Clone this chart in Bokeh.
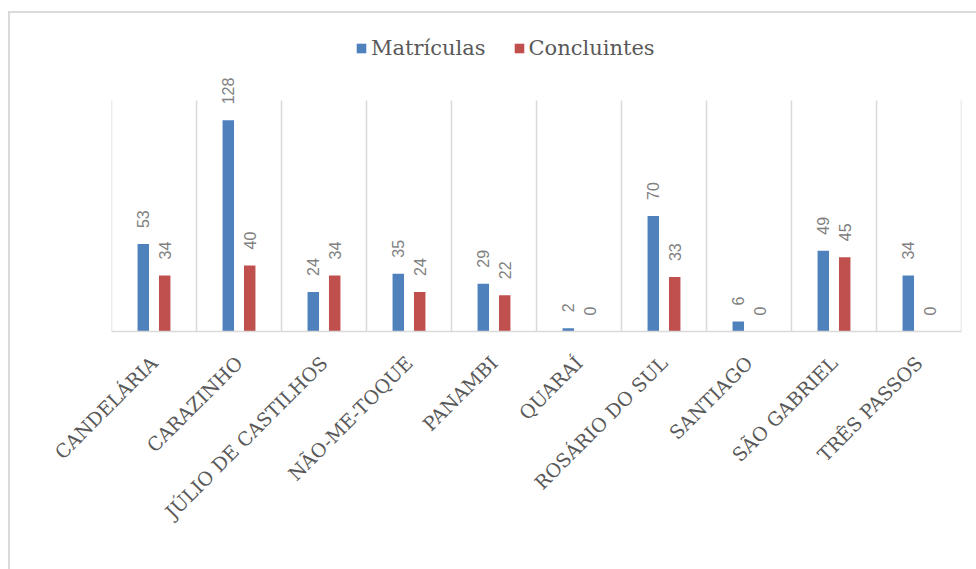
from math import pi
from bokeh.plotting import figure
from bokeh.models import (ColumnDataSource, FactorRange, Range1d, Legend, LegendItem)
from bokeh.transform import dodge
from bokeh.core.properties import value
from bokeh.embed import file_html
from bokeh.resources import INLINE

# ---- data ----
cidades = ["CANDELÁRIA", "CARAZINHO", "JÚLIO DE CASTILHOS", "NÃO-ME-TOQUE", "PANAMBI",
           "QUARAÍ", "ROSÁRIO DO SUL", "SANTIAGO", "SÃO GABRIEL", "TRÊS PASSOS"]
matriculas = [53, 128, 24, 35, 29, 2, 70, 6, 49, 34]
concluintes = [34, 40, 34, 24, 22, 0, 33, 0, 45, 0]
series_names = ["Matrículas", "Concluintes"]
grid_top = 140

BLUE = "#4F81BD"
RED = "#C0504D"
GRID = "#D9D9D9"

src = ColumnDataSource(dict(
    cat=cidades,
    m=matriculas,
    c=concluintes,
    m_lbl=[str(v) for v in matriculas],
    c_lbl=[str(v) for v in concluintes],
    y0=[0] * len(cidades),
    ytop=[grid_top] * len(cidades),
))
last = ColumnDataSource(dict(cat=[cidades[-1]], y0=[0], ytop=[grid_top]))

# frame height 311 px, 231 px for 140 units -> top of range 188.5
p = figure(x_range=FactorRange(factors=cidades), y_range=Range1d(0, 188.5),
           frame_width=850, frame_height=311, output_backend="svg", toolbar_location=None,
           min_border_left=101, min_border_right=15, min_border_top=7,
           min_border_bottom=238)
p.styles = {"margin-left": "8px", "margin-top": "11px",
            "border-left": "2px solid #D9D9D9", "border-top": "2px solid #D9D9D9"}
p.outline_line_color = None
p.background_fill_color = "white"
p.border_fill_color = "white"
p.xgrid.visible = False
p.ygrid.visible = False
p.yaxis.visible = False

# category boundary grid lines
p.segment(x0=dodge("cat", -0.5, range=p.x_range), x1=dodge("cat", -0.5, range=p.x_range),
          y0="y0", y1="ytop", source=src, line_color=GRID, line_width=1.5)
p.segment(x0=dodge("cat", 0.5, range=p.x_range), x1=dodge("cat", 0.5, range=p.x_range),
          y0="y0", y1="ytop", source=last, line_color=GRID, line_width=1.5)

off = 0.126
bw = 0.135
r1 = p.vbar(x=dodge("cat", -off, range=p.x_range), top="m", width=bw, source=src,
            fill_color=BLUE, line_color=None)
r2 = p.vbar(x=dodge("cat", off, range=p.x_range), top="c", width=bw, source=src,
            fill_color=RED, line_color=None)

lbl_kw = dict(angle=pi / 2, text_align="left", text_baseline="middle",
              text_font=value("Liberation Sans"), text_font_size="16px",
              text_color="#808080", y_offset=-16)
p.text(x=dodge("cat", -off, range=p.x_range), y="m", text="m_lbl", source=src, **lbl_kw)
p.text(x=dodge("cat", off, range=p.x_range), y="c", text="c_lbl", source=src, **lbl_kw)

ax = p.xaxis[0]
ax.axis_line_color = GRID
ax.axis_line_width = 1.5
ax.major_tick_line_color = None
ax.minor_tick_line_color = None
ax.major_label_orientation = pi / 4
ax.major_label_text_font = "DejaVu Serif"
ax.major_label_text_font_size = "19px"
ax.major_label_text_color = "#595959"
ax.major_label_standoff = 22

legend = Legend(items=[LegendItem(label=series_names[0], renderers=[r1]),
                       LegendItem(label=series_names[1], renderers=[r2])],
                orientation="horizontal", location=(244, 271),
                label_text_font="DejaVu Serif", label_text_font_size="21px",
                label_text_color="#595959", glyph_width=12, glyph_height=12,
                label_standoff=4, spacing=27, padding=0, margin=0,
                border_line_color=None, background_fill_alpha=0)
p.add_layout(legend, "center")

open("out.html", "w").write(file_html(p, INLINE))
